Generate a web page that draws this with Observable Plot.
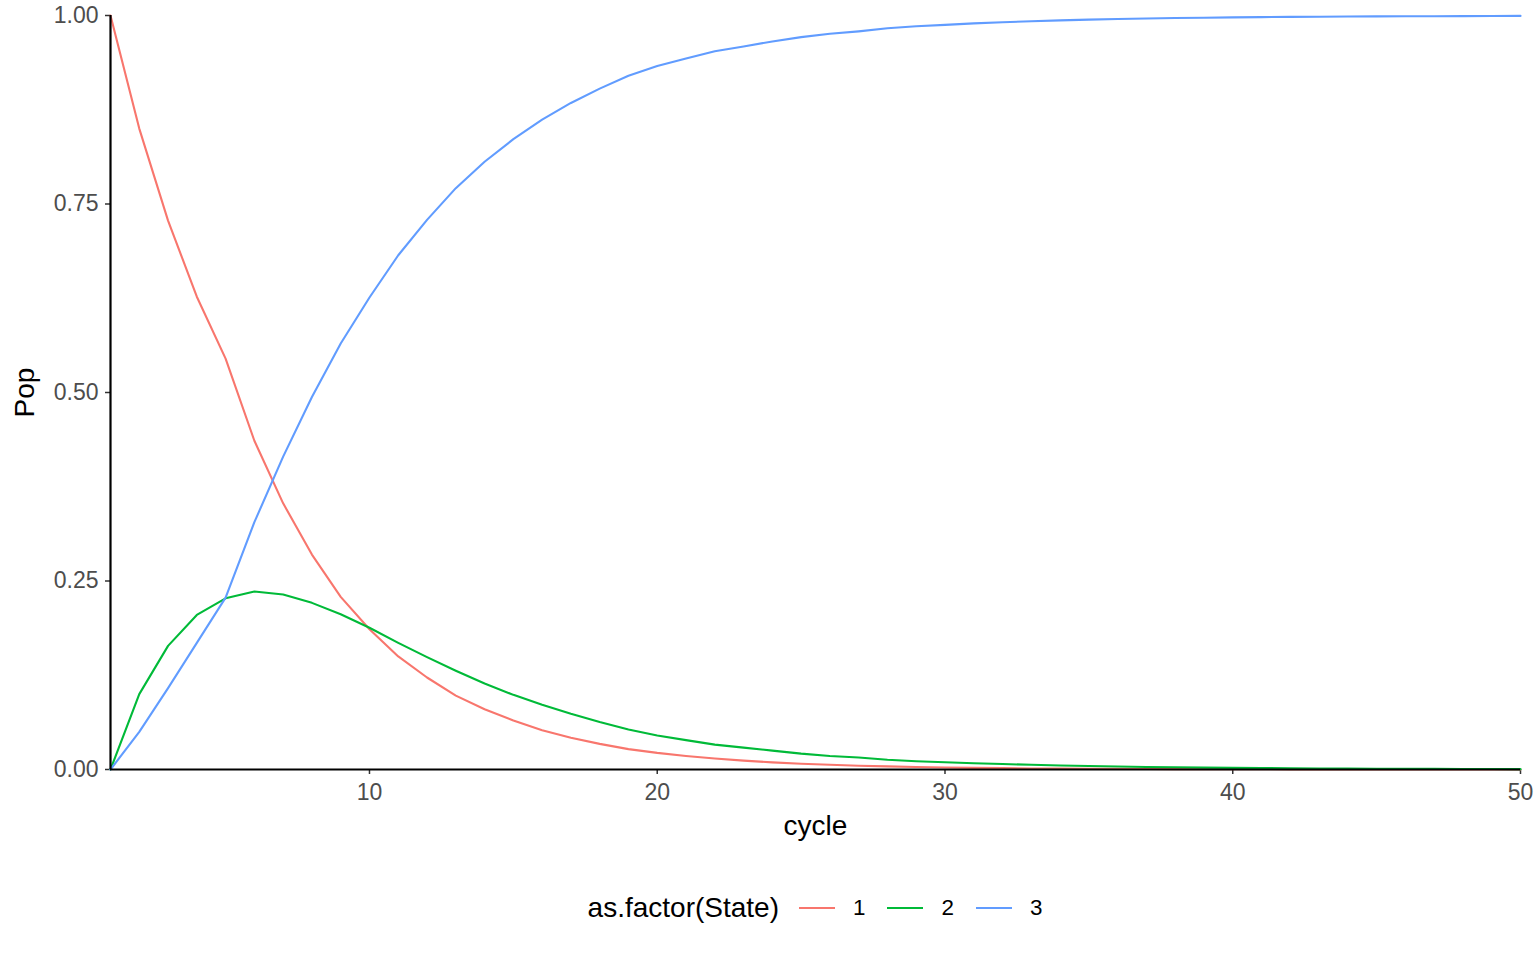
<!DOCTYPE html>
<html>
<head>
<meta charset="utf-8">
<script src="https://cdn.jsdelivr.net/npm/d3@7"></script>
<script src="https://cdn.jsdelivr.net/npm/@observablehq/plot@0.6"></script>
<style>
  html, body { margin: 0; padding: 0; background: #ffffff; }
  body { width: 1536px; height: 960px; overflow: hidden; font-family: "Liberation Sans", Arial, Helvetica, sans-serif; }
  #legend { display: flex; align-items: center; justify-content: center; box-sizing: border-box; padding-left: 110px; padding-right: 16px; width: 1536px; height: 76px; }
  #legend .title { font-size: 28px; color: #000; margin-right: 20px; }
  #legend .item { display: flex; align-items: center; margin-right: 22px; }
  #legend .item:last-child { margin-right: 0; }
  #legend .lab { font-size: 22.4px; color: #000; margin-left: 18px; }
</style>
</head>
<body>
<div id="chart"></div>
<div id="legend"></div>
<script>
const cycles = [1,2,3,4,5,6,7,8,9,10,11,12,13,14,15,16,17,18,19,20,21,22,23,24,25,26,27,28,29,30,31,32,33,34,35,36,37,38,39,40,41,42,43,44,45,46,47,48,49,50];
const states = ["1", "2", "3"];
const stateColors = ["#F8766D", "#00BA38", "#619CFF"];
const pop1 = [1.000,0.850,0.728,0.627,0.545,0.436,0.353,0.285,0.229,0.186,0.150,0.122,0.098,0.080,0.065,0.052,0.042,0.034,0.027,0.022,0.018,0.0145,0.0118,0.0095,0.0077,0.0062,0.0050,0.0041,0.0033,0.0027,0.0022,0.0018,0.0014,0.0012,0.0009,0.0008,0.0006,0.0005,0.0004,0.0003,0.0003,0.0002,0.0002,0.0001,0.0001,0.0001,0.0001,0.0001,0.0000,0.0000];
const pop2 = [0.000,0.100,0.164,0.205,0.227,0.236,0.232,0.221,0.206,0.188,0.168,0.149,0.131,0.114,0.099,0.086,0.074,0.063,0.053,0.045,0.039,0.033,0.029,0.025,0.021,0.018,0.016,0.013,0.011,0.0097,0.0083,0.0072,0.0062,0.0053,0.0046,0.0039,0.0034,0.0029,0.0025,0.0022,0.0019,0.0016,0.0014,0.0012,0.0010,0.0009,0.0008,0.0007,0.0006,0.0005];
const pop3 = [0.000,0.050,0.108,0.168,0.228,0.328,0.415,0.494,0.565,0.626,0.682,0.729,0.771,0.806,0.836,0.862,0.884,0.903,0.920,0.933,0.943,0.9525,0.959,0.9655,0.9713,0.9758,0.979,0.983,0.9857,0.9876,0.9895,0.991,0.9924,0.9935,0.9945,0.9953,0.996,0.9966,0.9971,0.9975,0.9978,0.9982,0.9984,0.9987,0.9989,0.999,0.9991,0.9992,0.9994,0.9995];
const xTicks = [10, 20, 30, 40, 50];
const yTicks = [0, 0.25, 0.5, 0.75, 1];
const xTitle = "cycle";
const yTitle = "Pop";
const legendTitle = "as.factor(State)";

const series = [pop1, pop2, pop3];
const data = [];
states.forEach((s, i) => cycles.forEach((c, j) => data.push({cycle: c, Pop: series[i][j], State: s})));

const chart = Plot.plot({
  width: 1536,
  height: 870,
  marginLeft: 110,
  marginRight: 16,
  marginTop: 15,
  marginBottom: 101,
  style: {fontFamily: '"Liberation Sans", Arial, Helvetica, sans-serif', background: "#ffffff"},
  x: {domain: [1, 50]},
  y: {domain: [0, 1]},
  color: {domain: states, range: stateColors},
  marks: [
    Plot.axisX(xTicks, {tickSize: 5, tickPadding: 9, fontSize: 23, fill: "#4D4D4D", stroke: "#333333", strokeWidth: 1.5, label: null}),
    Plot.axisY(yTicks, {tickSize: 5, tickPadding: 7, fontSize: 23, fill: "#4D4D4D", stroke: "#333333", strokeWidth: 1.5, tickFormat: d3.format(".2f"), label: null}),
    Plot.text([xTitle], {frameAnchor: "bottom", textAnchor: "middle", lineAnchor: "bottom", dy: 65, fontSize: 28, fill: "#000000", text: d => d}),
    Plot.text([yTitle], {frameAnchor: "left", textAnchor: "middle", lineAnchor: "top", rotate: -90, dx: -96, fontSize: 28, fill: "#000000", text: d => d}),
    Plot.line(data, {x: "cycle", y: "Pop", z: "State", stroke: "State", strokeWidth: 2.1}),
    Plot.ruleY([0], {stroke: "#000000", strokeWidth: 2.2}),
    Plot.ruleX([1], {stroke: "#000000", strokeWidth: 2.2})
  ]
});
document.getElementById("chart").appendChild(chart);

const legend = document.getElementById("legend");
const t = document.createElement("span");
t.className = "title";
t.textContent = legendTitle;
legend.appendChild(t);
states.forEach((s, i) => {
  const item = document.createElement("div");
  item.className = "item";
  item.innerHTML = `<svg width="36" height="20"><line x1="0" x2="36" y1="10" y2="10" stroke="${stateColors[i]}" stroke-width="2.1"></line></svg><span class="lab">${s}</span>`;
  legend.appendChild(item);
});
</script>
</body>
</html>
